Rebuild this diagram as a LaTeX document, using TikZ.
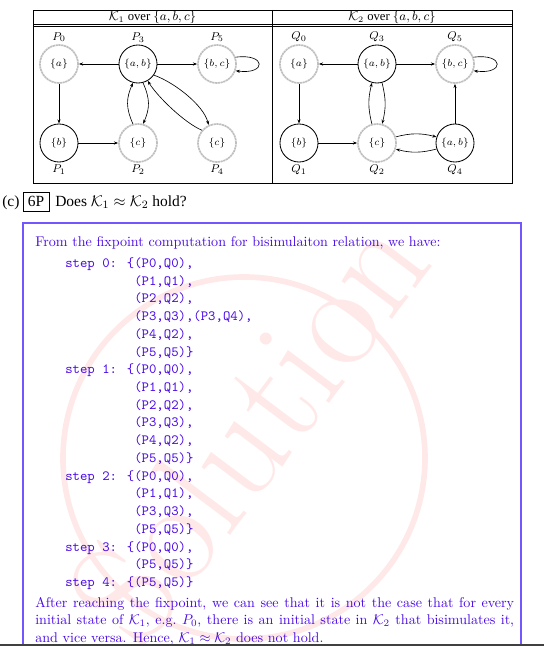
\documentclass[tikz,border=0pt]{standalone}
\usepackage{fontspec}
\newfontfamily\timesfont{Liberation Serif}
\usepackage{amsmath}
\usetikzlibrary{positioning,calc,arrows.meta}
\definecolor{SolBlue}{HTML}{4808E4}
\definecolor{SolFrame}{HTML}{7456FF}
\definecolor{Stamp}{HTML}{FFE8E8}

\begin{document}
\begin{tikzpicture}[x=0.71pt,y=-0.71pt,
 lit/.style={circle,draw=black,line width=0.6pt,minimum size=27pt,inner sep=0pt,font=\scriptsize},
 dim/.style={circle,draw=gray!50,line width=1.2pt,dash pattern=on 1.6pt off 0.4pt,minimum size=27pt,inner sep=0pt,font=\scriptsize},
 tr/.style={-{Stealth[length=3pt,width=2.2pt]},line width=0.45pt},
 pl/.style={font=\footnotesize,inner sep=1.5pt},
 mono/.style={anchor=base west,font=\ttfamily,text=SolBlue,inner sep=0pt},
 prose/.style={anchor=base west,text=SolBlue,inner sep=0pt}]
\useasboundingbox (0,0) rectangle (544,646);
% faint stamp behind the answer
\draw[Stamp,line width=4pt] (244,458) circle[radius=181];
\node[rotate=53,text=Stamp,font=\fontsize{105}{105}\selectfont] (stamp) at (248,428) {Solution};

% the two structures
\draw[line width=0.6pt] (33,10) rectangle (512,183);
\draw[line width=0.6pt] (33,24) -- (512,24) (33,26) -- (512,26) (272,10) -- (272,183);
\node[font=\timesfont\small] (head1) at (152.5,17.5) {$\mathcal{K}_1$ over $\{a,b,c\}$};
\node[font=\timesfont\small] (head2) at (392,17.5) {$\mathcal{K}_2$ over $\{a,b,c\}$};

\node[dim,label={[pl]above:$P_0$}] (P0) at (59,64) {$\{a\}$};
\node[lit,label={[pl]above:$P_3$}] (P3) at (138,64) {$\{a,b\}$};
\node[dim,label={[pl]above:$P_5$}] (P5) at (217,64) {$\{b,c\}$};
\node[lit,label={[pl]below:$P_1$}] (P1) at (59,143) {$\{b\}$};
\node[dim,label={[pl]below:$P_2$}] (P2) at (138,143) {$\{c\}$};
\node[dim,label={[pl]below:$P_4$}] (P4) at (217,143) {$\{c\}$};
\draw[tr] (P3) -- (P0);
\draw[tr] (P3) -- (P5);
\draw[tr] (P0) -- (P1);
\draw[tr] (P1) -- (P2);
\draw[tr] (P5.20) .. controls +(31,-4) and +(31,4) .. (P5.-20);
\draw[tr] (P2.105) .. controls +(-7,-16) and +(-7,16) .. (P3.255);
\draw[tr] (P3.285) .. controls +(7,16) and +(7,-16) .. (P2.75);
\draw[tr] (P3.-35) .. controls +(20,7) and +(-5,-20) .. (P4.115);
\draw[tr] (P4.140) .. controls +(-18,-8) and +(10,16) .. (P3.-60);

\node[dim,label={[pl]above:$Q_0$}] (Q0) at (299,64) {$\{a\}$};
\node[lit,label={[pl]above:$Q_3$}] (Q3) at (377,64) {$\{a,b\}$};
\node[dim,label={[pl]above:$Q_5$}] (Q5) at (455,64) {$\{b,c\}$};
\node[lit,label={[pl]below:$Q_1$}] (Q1) at (299,143) {$\{b\}$};
\node[dim,label={[pl]below:$Q_2$}] (Q2) at (377,143) {$\{c\}$};
\node[lit,label={[pl]below:$Q_4$}] (Q4) at (455,143) {$\{a,b\}$};
\draw[tr] (Q3) -- (Q0);
\draw[tr] (Q3) -- (Q5);
\draw[tr] (Q0) -- (Q1);
\draw[tr] (Q1) -- (Q2);
\draw[tr] (Q4) -- (Q5);
\draw[tr] (Q5.20) .. controls +(31,-4) and +(31,4) .. (Q5.-20);
\draw[tr] (Q2.105) .. controls +(-4,-16) and +(-4,16) .. (Q3.255);
\draw[tr] (Q3.285) .. controls +(4,16) and +(4,-16) .. (Q2.75);
\draw[tr] (Q2.18) .. controls +(15,-4) and +(-15,-4) .. (Q4.162);
\draw[tr] (Q4.-162) .. controls +(-15,4) and +(15,4) .. (Q2.-18);

% question
\node[font=\timesfont\fontsize{11}{13}\selectfont,anchor=base west,inner sep=0pt] (part) at (2,206) {(c)};
\node[font=\timesfont\fontsize{11}{13}\selectfont,draw,line width=0.5pt,inner xsep=3.5pt,inner ysep=2.5pt,text depth=1.5pt,anchor=base] (pts) at (36,206) {6P};
\node[font=\timesfont\fontsize{11}{13}\selectfont,anchor=base west,inner sep=0pt] (ask) at (55,206) {Does $\mathcal{K}_1\approx\mathcal{K}_2$ hold?};

% answer box
\draw[SolFrame,line width=1pt] (23,650) -- (23,223) -- (521,223) -- (521,650);
\node[prose] (intro) at (35,246) {From the fixpoint computation for bisimulaiton relation, we have:};
\foreach \k/\row/\pr in {0/0/{(P0,Q0),},1/6/{(P0,Q0),},2/12/{(P0,Q0),},3/16/{(P0,Q0),},4/18/{(P5,Q5)\}}}
 \node[mono] (step\k) at (65,267.5+17.72*\row) {step \k: \{\pr};
\foreach \row/\pr in {1/{(P1,Q1),},2/{(P2,Q2),},3/{(P3,Q3),(P3,Q4),},4/{(P4,Q2),},5/{(P5,Q5)\}},
 7/{(P1,Q1),},8/{(P2,Q2),},9/{(P3,Q3),},10/{(P4,Q2),},11/{(P5,Q5)\}},
 13/{(P1,Q1),},14/{(P3,Q3),},15/{(P5,Q5)\}},17/{(P5,Q5)\}}}
 \node[mono] (pair\row) at (65,267.5+17.72*\row) {\hphantom{step 0: \{}\pr};
\node[prose] (line1) at (35,607) {\hbox to 340pt{After reaching the fixpoint, we can see that it is not the case that for every}};
\node[prose] (line2) at (35,624.5) {\hbox to 340pt{initial state of $\mathcal{K}_1$, e.g.\ $P_0$, there is an initial state in $\mathcal{K}_2$ that bisimulates it,}};
\node[prose] (line3) at (35,642) {and vice versa. Hence, $\mathcal{K}_1\approx\mathcal{K}_2$ does not hold.};
\fill[black!75] (0,644) rectangle (544,646);
\end{tikzpicture}
\end{document}
